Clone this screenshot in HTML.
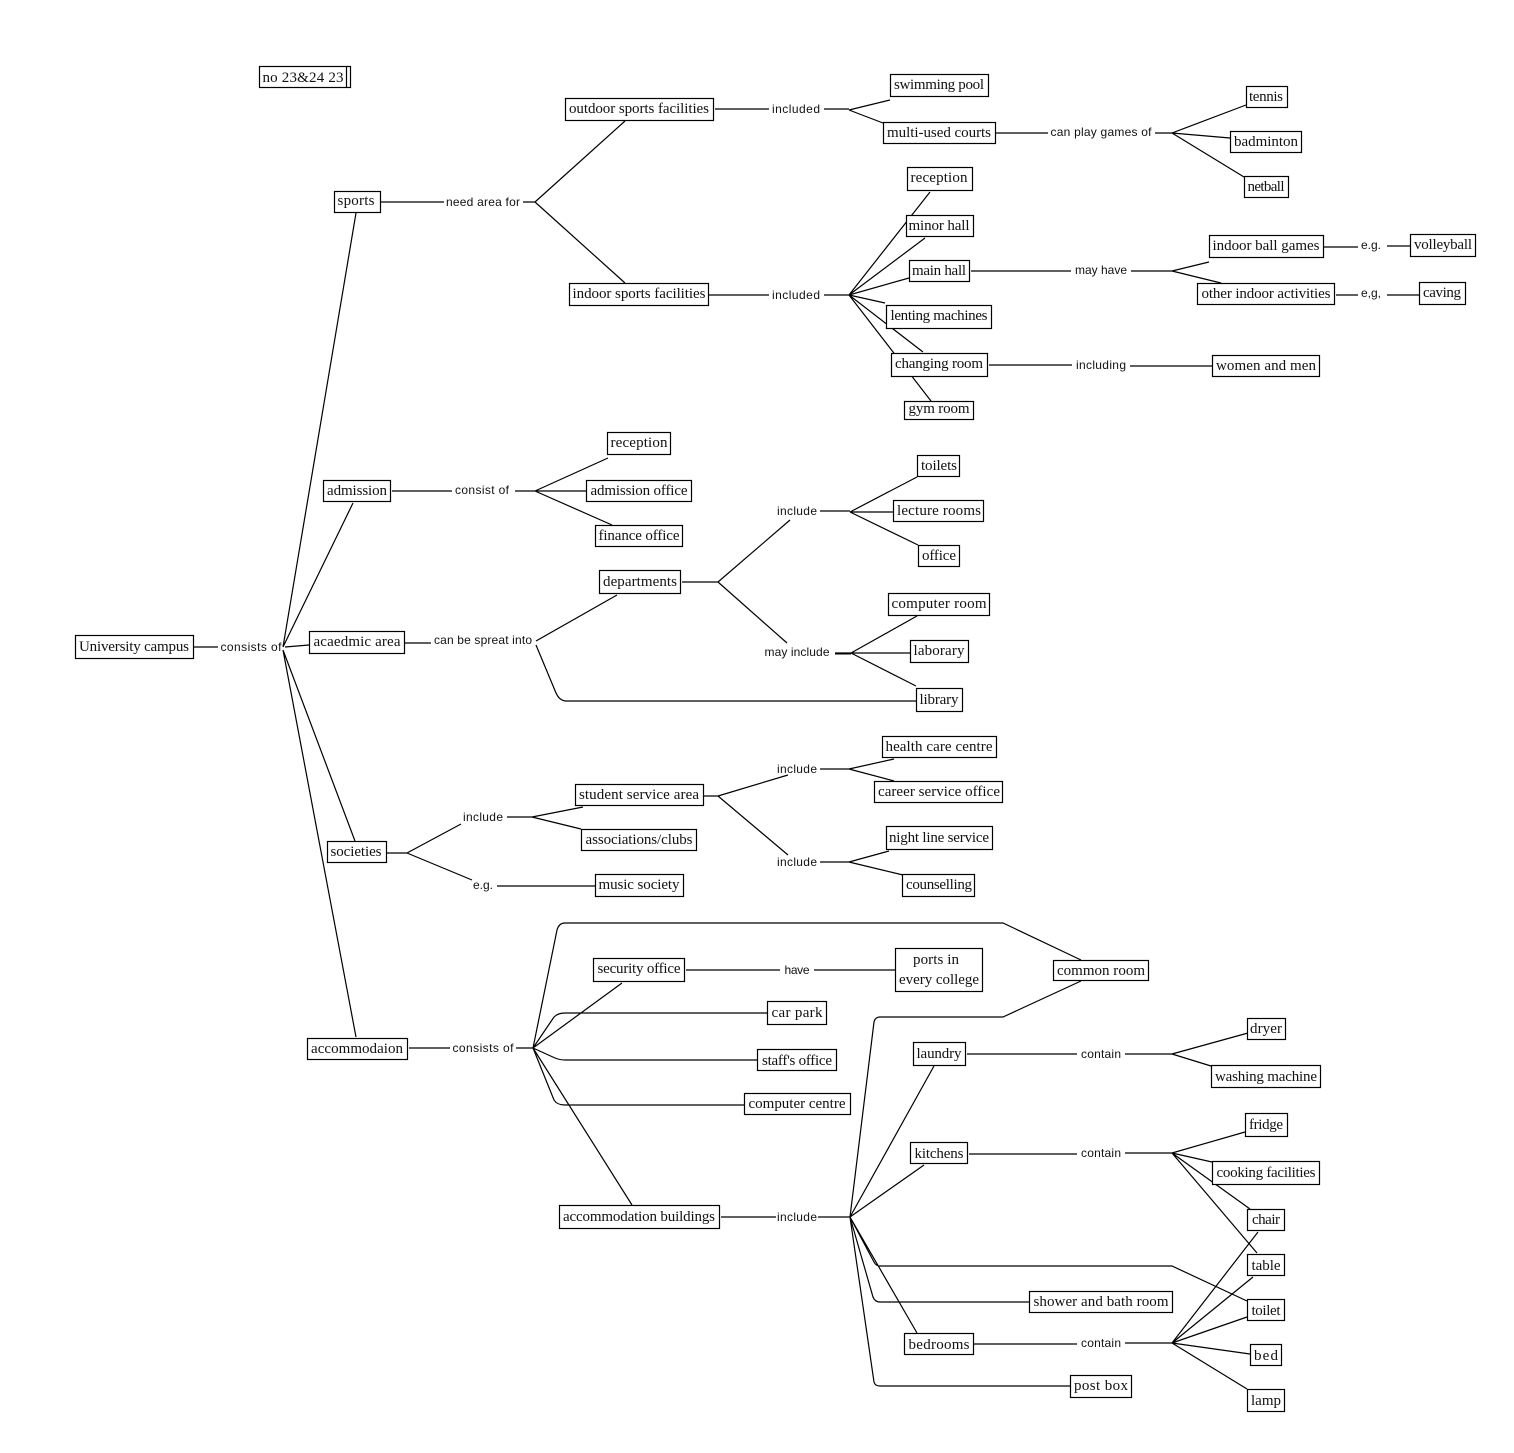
<!DOCTYPE html>
<html><head><meta charset="utf-8"><style>
html,body{margin:0;padding:0;background:#fff}
svg{display:block}
path{fill:none;stroke:#000;stroke-width:1.2}
rect{fill:#fff;stroke:#000;stroke-width:1.2}
text{fill:#111;text-anchor:middle}
.n{font:15px "Liberation Serif",serif}
.l{font:12px "Liberation Sans",sans-serif}
</style></head><body>
<svg width="1514" height="1453" viewBox="0 0 1514 1453" xmlns="http://www.w3.org/2000/svg">
<rect x="0" y="0" width="1514" height="1453" style="stroke:none"/>
<path d="M194 647H218M283 647L356 213M283 647L353 503M285 647L309 645M283 650L355 841M283 650L356 1037"/>
<path d="M381 202H444M523 202H535M535 202L625 121M535 202L625 283"/>
<path d="M715 109H769M824 109H849M849 110L890 100M849 110L883 123"/>
<path d="M996 133H1048M1155 133H1172M1172 133L1246 105M1172 133L1230 138M1172 133L1244 177"/>
<path d="M709 295H769M824 295H849M849 295L930 192M849 295L925 238M849 295L909 278M849 295L885 303M849 295L923 352M849 295L931 401"/>
<path d="M971 271H1071M1131 271H1172M1172 271L1209 262M1172 271L1221 283"/>
<path d="M1324 247H1358M1387 246H1410M1336 295H1358M1387 295H1419"/>
<path d="M989 365H1072M1130 366H1212"/>
<path d="M392 491H452M515 491H535M535 491L608 458M535 491L586 491M535 491L612 525"/>
<path d="M405 643H431M536 641L617 595M536 645L556 693Q559 700 565 701H916"/>
<path d="M682 582H718M718 582L790 520M718 582L787 643"/>
<path d="M820 511H850M850 512L917 477M850 512H893M850 512L918 545"/>
<path d="M835 653H851M851 653L917 616M851 653H910M851 653L916 686"/>
<path d="M835 653.5H851" style="stroke-width:2"/>
<path d="M387 853H407M407 853L461 824M407 853L472 880M507 817H532M532 817L583 807M532 817L581 829M497 886H595"/>
<path d="M704 796H718M718 796L788 775M718 796L788 855"/>
<path d="M820 769H849M849 769L894 759M849 769L894 781M820 862H849M849 862L889 851M849 862L903 875"/>
<path d="M409 1048H450M516 1048H533M533 1048L557 930Q559 923 565 923H1003L1081 960M533 1048L622 983M533 1048L554 1017Q558 1013 565 1013H767M533 1048L555 1058Q560 1060 565 1060H757M533 1048L554 1100Q557 1105 565 1105H744M533 1048L632 1205"/>
<path d="M686 970H780M814 970H895"/>
<path d="M721 1217H776M818 1217H850M850 1217L874 1022Q875 1017 880 1017H1003L1081 981M850 1217L934 1066M850 1217L924 1165M850 1217L874 1262Q876 1266 880 1266H1172L1247 1301M850 1217L873 1297Q875 1302 880 1302H1029M850 1217L917 1333M850 1217L874 1382Q875 1386 880 1386H1070"/>
<path d="M967 1054H1077M1125 1054H1172M1172 1054L1248 1033M1172 1054L1211 1066"/>
<path d="M969 1154H1077M1125 1153H1172M1172 1153L1245 1132M1172 1153L1212 1162M1172 1153L1250 1209M1172 1153L1257 1253"/>
<path d="M974 1344H1077M1125 1343H1172M1172 1343L1258 1232M1172 1343L1253 1277M1172 1343L1247 1317M1172 1343L1250 1354M1172 1343L1247 1389"/>

<rect x="259.5" y="66.5" width="91" height="21"/><path d="M346.500 67V87"/><text class="n" x="303" y="82" textLength="81" lengthAdjust="spacing">no 23&amp;24 23</text>
<rect x="75.500" y="635.500" width="118" height="23"/><text class="n" x="134" y="651" textLength="110">University campus</text>
<rect x="334.500" y="191.500" width="46" height="21"/><text class="n" x="356" y="205" textLength="37">sports</text>
<rect x="323.500" y="480.500" width="67" height="21"/><text class="n" x="357" y="495" textLength="60">admission</text>
<rect x="309.500" y="631.500" width="95" height="22"/><text class="n" x="357" y="646" textLength="87">acaedmic area</text>
<rect x="327.500" y="841.500" width="59" height="21"/><text class="n" x="356" y="856" textLength="51">societies</text>
<rect x="307.500" y="1038.500" width="100" height="21"/><text class="n" x="357" y="1053" textLength="92">accommodaion</text>

<rect x="565.500" y="98.500" width="148" height="22"/><text class="n" x="639" y="113" textLength="140">outdoor sports facilities</text>
<rect x="569.500" y="283.500" width="139" height="22"/><text class="n" x="639" y="298" textLength="133">indoor sports facilities</text>
<rect x="890.500" y="74.500" width="98" height="22"/><text class="n" x="939" y="89" textLength="90">swimming pool</text>
<rect x="883.500" y="122.500" width="112" height="21"/><text class="n" x="939" y="137" textLength="104">multi-used courts</text>
<rect x="1246.500" y="86.500" width="41" height="21"/><text class="n" x="1266" y="101" textLength="34">tennis</text>
<rect x="1230.500" y="131.500" width="71" height="21"/><text class="n" x="1266" y="146" textLength="64">badminton</text>
<rect x="1244.500" y="176.500" width="44" height="21"/><text class="n" x="1266" y="191" textLength="37">netball</text>
<rect x="907.500" y="167.500" width="65" height="23"/><text class="n" x="939" y="182" textLength="57">reception</text>
<rect x="906.500" y="215.500" width="67" height="21"/><text class="n" x="939" y="230" textLength="61">minor hall</text>
<rect x="909.500" y="260.500" width="60" height="21"/><text class="n" x="939" y="275" textLength="54">main hall</text>
<rect x="886.500" y="305.500" width="105" height="23"/><text class="n" x="939" y="320" textLength="97">lenting machines</text>
<rect x="891.500" y="353.500" width="96" height="23"/><text class="n" x="939" y="368" textLength="88">changing room</text>
<rect x="904.500" y="401.500" width="69" height="18"/><text class="n" x="939" y="413" textLength="61">gym room</text>
<rect x="1209.500" y="235.500" width="114" height="22"/><text class="n" x="1266" y="250" textLength="107">indoor ball games</text>
<rect x="1410.500" y="234.500" width="65" height="22"/><text class="n" x="1443" y="249" textLength="58">volleyball</text>
<rect x="1197.500" y="283.500" width="137" height="21"/><text class="n" x="1266" y="298" textLength="129">other indoor activities</text>
<rect x="1419.500" y="282.500" width="46" height="22"/><text class="n" x="1442" y="297" textLength="38">caving</text>
<rect x="1212.500" y="355.500" width="107" height="21"/><text class="n" x="1266" y="370" textLength="100">women and men</text>

<rect x="607.500" y="432.500" width="63" height="22"/><text class="n" x="639" y="447" textLength="57">reception</text>
<rect x="586.500" y="480.500" width="105" height="21"/><text class="n" x="639" y="495" textLength="97">admission office</text>
<rect x="595.500" y="525.500" width="87" height="21"/><text class="n" x="639" y="540" textLength="81">finance office</text>
<rect x="917.500" y="455.500" width="42" height="21"/><text class="n" x="939" y="470" textLength="36">toilets</text>
<rect x="893.500" y="500.500" width="90" height="21"/><text class="n" x="939" y="515" textLength="84">lecture rooms</text>
<rect x="918.500" y="545.500" width="41" height="21"/><text class="n" x="939" y="560" textLength="34">office</text>
<rect x="599.500" y="570.500" width="81" height="23"/><text class="n" x="640" y="586" textLength="74">departments</text>
<rect x="888.500" y="593.500" width="101" height="22"/><text class="n" x="939" y="608" textLength="95">computer room</text>
<rect x="910.500" y="640.500" width="58" height="22"/><text class="n" x="939" y="655" textLength="51">laborary</text>
<rect x="916.500" y="688.500" width="46" height="23"/><text class="n" x="939" y="704" textLength="39">library</text>

<rect x="575.500" y="784.500" width="128" height="21"/><text class="n" x="639" y="799" textLength="120">student service area</text>
<rect x="581.500" y="829.500" width="115" height="21"/><text class="n" x="639" y="844" textLength="107">associations/clubs</text>
<rect x="595.500" y="874.500" width="88" height="22"/><text class="n" x="639" y="889" textLength="81">music society</text>
<rect x="882.500" y="736.500" width="114" height="21"/><text class="n" x="939" y="751" textLength="107">health care centre</text>
<rect x="874.500" y="781.500" width="128" height="21"/><text class="n" x="939" y="796" textLength="122">career service office</text>
<rect x="886.500" y="826.500" width="106" height="23"/><text class="n" x="939" y="842" textLength="100">night line service</text>
<rect x="902.500" y="874.500" width="72" height="22"/><text class="n" x="939" y="889" textLength="66">counselling</text>

<rect x="593.500" y="958.500" width="91" height="23"/><text class="n" x="639" y="973" textLength="83">security office</text>
<rect x="895.500" y="948.500" width="87" height="43"/><text class="n" x="936" y="964" textLength="46">ports in</text><text class="n" x="939" y="984" textLength="80">every college</text>
<rect x="1053.500" y="960.500" width="95" height="20"/><text class="n" x="1101" y="975" textLength="88">common room</text>
<rect x="767.500" y="1001.500" width="59" height="23"/><text class="n" x="797" y="1017" textLength="51">car park</text>
<rect x="757.500" y="1049.500" width="79" height="21"/><text class="n" x="797" y="1065" textLength="70">staff's office</text>
<rect x="744.500" y="1093.500" width="106" height="21"/><text class="n" x="797" y="1108" textLength="97">computer centre</text>
<rect x="559.500" y="1205.500" width="160" height="23"/><text class="n" x="639" y="1221" textLength="152">accommodation buildings</text>
<rect x="913.500" y="1042.500" width="52" height="23"/><text class="n" x="939" y="1058" textLength="45">laundry</text>
<rect x="910.500" y="1142.500" width="57" height="21"/><text class="n" x="939" y="1158" textLength="49">kitchens</text>
<rect x="1029.500" y="1291.500" width="143" height="21"/><text class="n" x="1101" y="1306" textLength="135">shower and bath room</text>
<rect x="904.500" y="1333.500" width="69" height="21"/><text class="n" x="939" y="1349" textLength="61">bedrooms</text>
<rect x="1070.500" y="1375.500" width="61" height="22"/><text class="n" x="1101" y="1390" textLength="54">post box</text>
<rect x="1247.500" y="1018.500" width="38" height="21"/><text class="n" x="1266" y="1033" textLength="32">dryer</text>
<rect x="1211.500" y="1065.500" width="109" height="22"/><text class="n" x="1266" y="1081" textLength="102">washing machine</text>
<rect x="1245.500" y="1113.500" width="42" height="23"/><text class="n" x="1266" y="1129" textLength="34">fridge</text>
<rect x="1212.500" y="1161.500" width="107" height="23"/><text class="n" x="1266" y="1177" textLength="99">cooking facilities</text>
<rect x="1247.500" y="1209.500" width="37" height="21"/><text class="n" x="1266" y="1224" textLength="28">chair</text>
<rect x="1247.500" y="1254.500" width="37" height="21"/><text class="n" x="1266" y="1270" textLength="29">table</text>
<rect x="1247.500" y="1299.500" width="37" height="21"/><text class="n" x="1266" y="1315" textLength="29">toilet</text>
<rect x="1250.500" y="1344.500" width="31" height="21"/><text class="n" x="1266" y="1360" textLength="24">bed</text>
<rect x="1247.500" y="1389.500" width="37" height="22"/><text class="n" x="1266" y="1405" textLength="30">lamp</text>

<g class="l">
<text x="251" y="651" textLength="61">consists of</text>
<text x="483" y="206" textLength="74">need area for</text>
<text x="796" y="113" textLength="48">included</text>
<text x="1101" y="136" textLength="101">can play games of</text>
<text x="796" y="299" textLength="48">included</text>
<text x="1101" y="274" textLength="52">may have</text>
<text x="1371" y="249" textLength="20">e.g.</text>
<text x="1371" y="297" textLength="20">e,g,</text>
<text x="1101" y="369" textLength="50">including</text>
<text x="482" y="494" textLength="54">consist of</text>
<text x="483" y="644" textLength="98">can be spreat into</text>
<text x="797" y="515" textLength="40">include</text>
<text x="797" y="656" textLength="65">may include</text>
<text x="483" y="821" textLength="40">include</text>
<text x="483" y="889" textLength="20">e.g.</text>
<text x="797" y="773" textLength="40">include</text>
<text x="797" y="866" textLength="40">include</text>
<text x="483" y="1052" textLength="61">consists of</text>
<text x="797" y="974" textLength="25">have</text>
<text x="797" y="1221" textLength="40">include</text>
<text x="1101" y="1058" textLength="40">contain</text>
<text x="1101" y="1157" textLength="40">contain</text>
<text x="1101" y="1347" textLength="40">contain</text>
</g>
</svg>
</body></html>
